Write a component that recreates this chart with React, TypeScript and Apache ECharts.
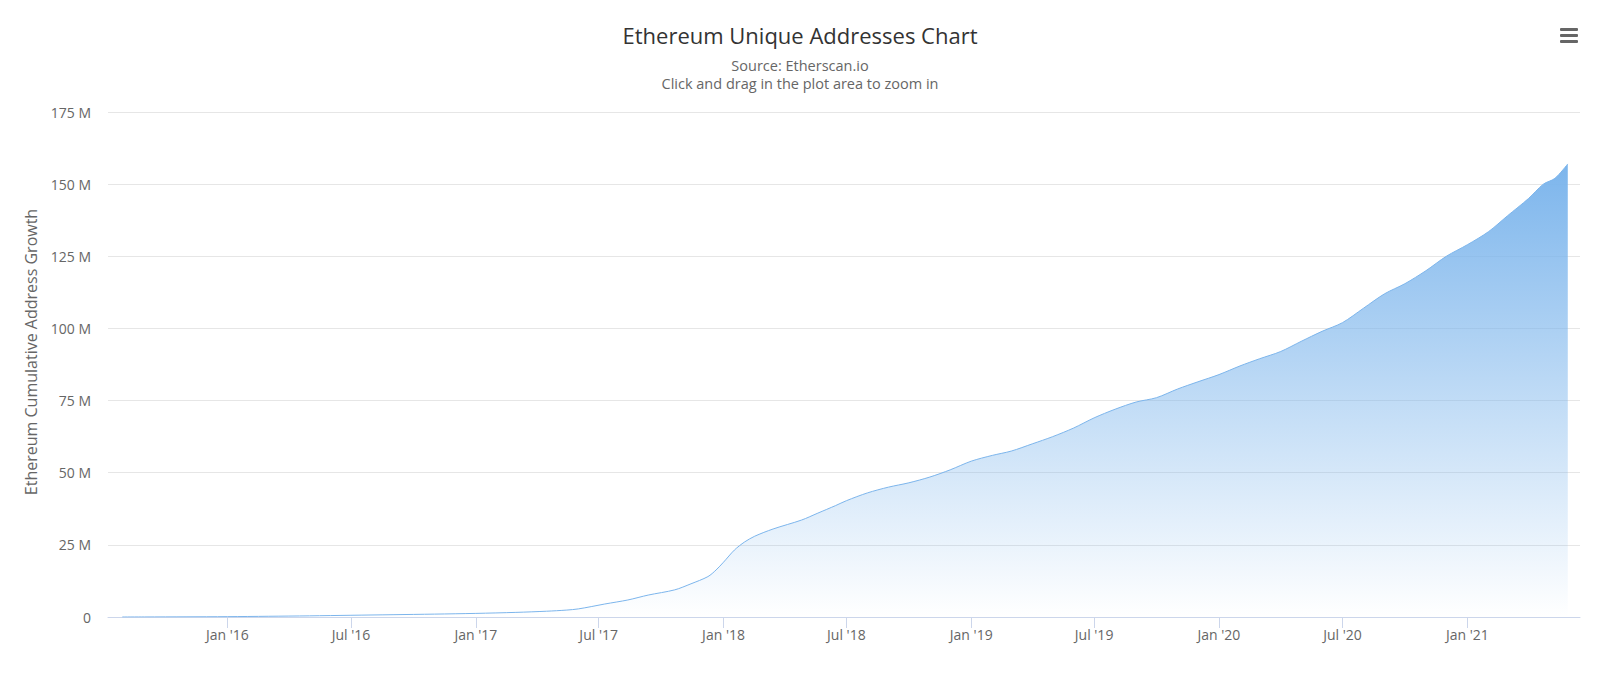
import React, { useEffect, useRef } from "react";
import * as echarts from "echarts";

const FONT = "'Open Sans', 'DejaVu Sans', sans-serif";

const titleText = "Ethereum Unique Addresses Chart";
const subtitleLines = ["Source: Etherscan.io", "Click and drag in the plot area to zoom in"];
const yAxisTitle = "Ethereum Cumulative Address Growth";

// Dates of sampled points and cumulative unique addresses (millions)
const dates = [
  "2015-07-30", "2015-09-01", "2015-11-01", "2016-01-01", "2016-03-01", "2016-05-01",
  "2016-07-01", "2016-09-01", "2016-11-01", "2017-01-01", "2017-03-01", "2017-04-15",
  "2017-05-15", "2017-06-01", "2017-06-20", "2017-07-10", "2017-08-13", "2017-09-12",
  "2017-10-21", "2017-11-14", "2017-12-09", "2017-12-21", "2018-01-01", "2018-01-17",
  "2018-02-01", "2018-02-16", "2018-03-15", "2018-04-26", "2018-05-20", "2018-06-15",
  "2018-07-01", "2018-08-01", "2018-09-01", "2018-10-01", "2018-11-01", "2018-12-01",
  "2019-01-01", "2019-02-01", "2019-03-01", "2019-04-01", "2019-05-01", "2019-06-01",
  "2019-07-01", "2019-08-01", "2019-09-01", "2019-10-01", "2019-11-01", "2019-12-01",
  "2020-01-01", "2020-02-01", "2020-03-01", "2020-04-01", "2020-05-01", "2020-06-01",
  "2020-07-01", "2020-08-01", "2020-09-01", "2020-10-01", "2020-11-01", "2020-12-01",
  "2021-01-01", "2021-02-01", "2021-03-01", "2021-04-01", "2021-04-23", "2021-05-10",
  "2021-05-29",
];
const addressesM = [
  0, 0.02, 0.06, 0.12, 0.25, 0.4,
  0.6, 0.8, 1.0, 1.25, 1.6, 2.0,
  2.4, 2.8, 3.6, 4.5, 5.9, 7.6,
  9.4, 11.5, 14.0, 16.3, 19.0, 23.2,
  26.0, 28.0, 30.5, 33.6, 36.0, 38.6,
  40.3, 43.0, 45.0, 46.5, 48.5, 51.0,
  54.0, 56.0, 57.5, 60.0, 62.5, 65.5,
  69.0, 72.0, 74.5, 76.0, 79.0, 81.5,
  84.0, 87.0, 89.5, 92.0, 95.5, 99.0,
  102.0, 107.0, 112.0, 115.5, 120.0, 125.0,
  129.0, 133.5, 139.0, 145.0, 150.0, 152.0,
  157.0,
];

const xMin = "2015-07-09";
const xMax = "2021-06-16";
const tickDates = [
  "2016-01-01", "2016-07-01", "2017-01-01", "2017-07-01", "2018-01-01", "2018-07-01",
  "2019-01-01", "2019-07-01", "2020-01-01", "2020-07-01", "2021-01-01",
];
const monthNames = ["Jan", "Feb", "Mar", "Apr", "May", "Jun", "Jul", "Aug", "Sep", "Oct", "Nov", "Dec"];

const yMax = 175;
const yStep = 25;

const ts = (d: string) => Date.UTC(+d.slice(0, 4), +d.slice(5, 7) - 1, +d.slice(8, 10));

export default function App() {
  const ref = useRef<HTMLDivElement>(null);
  useEffect(() => {
    if (!ref.current) return;
    const chart = echarts.init(ref.current, undefined, { renderer: "svg" });
    const seriesData = dates.map((d, i) => [ts(d), addressesM[i] * 1e6]);
    const tickValues = tickDates.map(ts);
    chart.setOption({
      animation: false,
      backgroundColor: "#ffffff",
      textStyle: { fontFamily: FONT },
      title: [
        {
          text: titleText,
          left: "center",
          top: 24,
          padding: 0,
          textStyle: { fontFamily: FONT, fontSize: 22, fontWeight: "normal", color: "#333333" },
        },
        {
          text: subtitleLines[0],
          left: "center",
          top: 58,
          padding: 0,
          textStyle: { fontFamily: FONT, fontSize: 14.5, fontWeight: "normal", color: "#666666" },
        },
        {
          text: subtitleLines[1],
          left: "center",
          top: 76,
          padding: 0,
          textStyle: { fontFamily: FONT, fontSize: 14.5, fontWeight: "normal", color: "#666666" },
        },
      ],
      grid: { left: 108, right: 20, top: 112, bottom: 64, containLabel: false },
      xAxis: {
        type: "value",
        min: ts(xMin),
        max: ts(xMax),
        axisLine: { show: true, onZero: false, lineStyle: { color: "#ccd6eb", width: 1 } },
        axisTick: {
          show: true,
          length: 11,
          lineStyle: { color: "#ccd6eb" },
          customValues: tickValues,
        },
        splitLine: { show: false },
        axisLabel: {
          customValues: tickValues,
          margin: 10,
          color: "#666666",
          fontSize: 14,
          fontFamily: FONT,
          formatter: (v: number) => {
            const d = new Date(v);
            return monthNames[d.getUTCMonth()] + " '" + String(d.getUTCFullYear()).slice(2);
          },
        },
      },
      yAxis: {
        type: "value",
        min: 0,
        max: yMax * 1e6,
        interval: yStep * 1e6,
        axisLine: { show: false },
        axisTick: { show: false },
        splitLine: { show: true, lineStyle: { color: "#e6e6e6", width: 1 } },
        axisLabel: {
          margin: 17,
          color: "#666666",
          fontSize: 14,
          fontFamily: FONT,
          formatter: (v: number) => (v === 0 ? "0" : v / 1e6 + " M"),
        },
      },
      graphic: [
        {
          type: "text",
          x: 31,
          y: 352,
          rotation: Math.PI / 2,
          style: {
            text: yAxisTitle,
            fill: "#666666",
            fontFamily: FONT,
            fontSize: 16,
            textAlign: "center",
            textVerticalAlign: "middle",
          },
        },
        { type: "rect", shape: { x: 1560, y: 28, width: 18, height: 3, r: 1 }, style: { fill: "#666666" } },
        { type: "rect", shape: { x: 1560, y: 34, width: 18, height: 3, r: 1 }, style: { fill: "#666666" } },
        { type: "rect", shape: { x: 1560, y: 40, width: 18, height: 3, r: 1 }, style: { fill: "#666666" } },
      ],
      series: [
        {
          type: "line",
          data: seriesData,
          showSymbol: false,
          smooth: 0.3,
          lineStyle: { color: "#7cb5ec", width: 1 },
          itemStyle: { color: "#7cb5ec" },
          areaStyle: {
            opacity: 1,
            color: new echarts.graphic.LinearGradient(0, 0, 0, 1, [
              { offset: 0, color: "rgba(124,181,236,1)" },
              { offset: 1, color: "rgba(124,181,236,0)" },
            ]),
          },
        },
      ],
    });
    return () => chart.dispose();
  }, []);
  return (
    <div
      ref={ref}
      style={{ position: "absolute", left: 0, top: 0, width: "1600px", height: "681px" }}
    />
  );
}
